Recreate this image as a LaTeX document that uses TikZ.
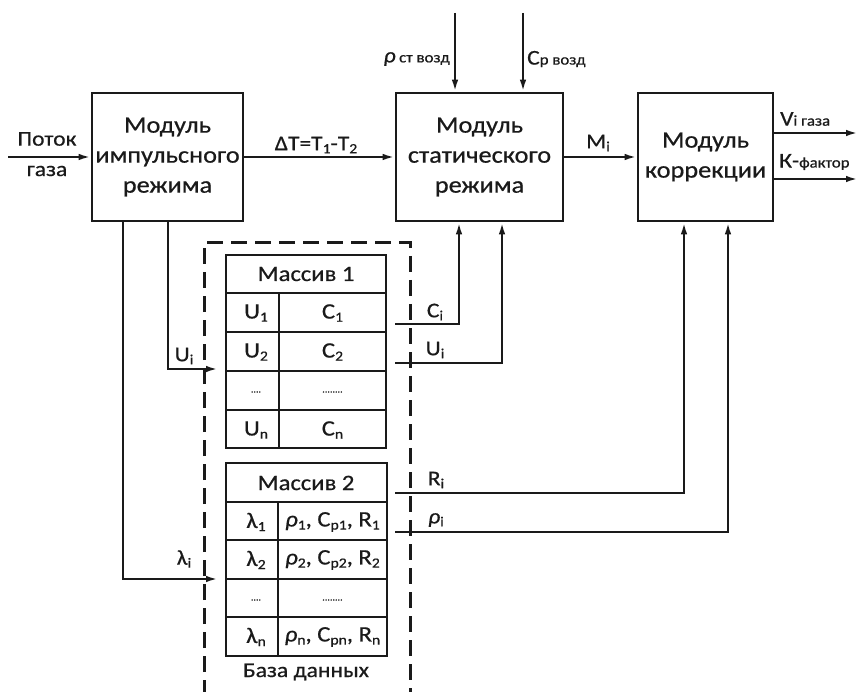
\documentclass[tikz,border=0pt]{standalone}
\usepackage{fontspec}
\setmainfont{Carlito}[FakeStretch=1.12,FakeBold=0.6]
\usetikzlibrary{arrows.meta}
\definecolor{inkc}{HTML}{1A1A1A}
\newcommand\sbx[1]{\raisebox{-0.3ex}{\fontsize{14}{14}\selectfont #1}}
\newcommand\smx[1]{{\fontsize{15}{15}\selectfont #1}}
\begin{document}
\begin{tikzpicture}[x=1pt,y=-1pt,
  every node/.style={text=inkc, inner sep=0pt, font=\fontsize{21}{24}\selectfont},
  modbox/.style={draw=inkc, line width=2.6pt, minimum height=128pt, align=center,
     font=\fontsize{23.5}{30}\selectfont},
  ln/.style={draw=inkc, line width=2.3pt},
  arr/.style={-{Latex[length=12pt,width=6.5pt]}},
  tbl/.style={draw=inkc, line width=2.4pt},
  dbox/.style={draw=inkc, line width=3pt, dash pattern=on 16pt off 8pt},
  lbl/.style={font=\fontsize{21}{24}\selectfont},
  cell/.style={font=\fontsize{22}{24}\selectfont},
  dotc/.style={font=\fontsize{9}{9}\selectfont}
]
\useasboundingbox (0,0) rectangle (861,692);
\fill[white] (0,0) rectangle (861,692);

% modules
\node[modbox, minimum width=151pt] (b1) at (167.5,157) {Модуль\\импульсного\\режима};
\node[modbox, minimum width=167pt] (b2) at (479.5,157) {Модуль\\статического\\режима};
\node[modbox, minimum width=135pt] (b3) at (705.5,157) {Модуль\\коррекции};

% input
\coordinate (inP) at (8,157);
\draw[ln,arr] (inP) -- (b1.west);
\node[lbl] (lp) at (47,139) {Поток};
\node[lbl] (lg) at (47,171) {газа};

\draw[ln,arr] (b1.east) -- (b2.west);
\node[lbl] (ldt) at (316,145) {Δ{}T=T\sbx{1}-T\sbx{2}};
\draw[ln,arr] (b2.east) -- (b3.west);
\node[lbl] (lmi) at (598,143) {M\sbx{i}};

% top inputs
\coordinate (rt) at (455,13);
\coordinate (ct) at (523,13);
\draw[ln,arr] (rt) -- (rt |- b2.north);
\draw[ln,arr] (ct) -- (ct |- b2.north);
\node[lbl, anchor=east] (lrho) at (450,59) {\textit{ρ}\,\smx{ст возд}};
\node[lbl, anchor=west] (lcp) at (527,59) {C\smx{p возд}};

% outputs
\coordinate (vo) at (858,133);
\coordinate (ko) at (858,179);
\draw[ln,arr] (vo -| b3.east) -- (vo);
\draw[ln,arr] (ko -| b3.east) -- (ko);
\node[lbl, anchor=west] (lv) at (780,119) {V\smx{i газа}};
\node[lbl, anchor=west] (lk) at (779,162) {К-\smx{фактор}};

% database dashed box
\draw[dbox] (204,720) -- (204,243) -- (410,243) -- (410,720);
\node[lbl] (ldb) at (306,672) {База данных};

% table 1
\draw[tbl] (226,255) rectangle (386,448);
\foreach \yy in {293,332,371,410} \draw[tbl] (226,\yy) -- (386,\yy);
\draw[tbl] (279,293) -- (279,448);
\node[cell] (t1h) at (306,274) {Массив 1};
\node[cell] (t1a) at (256,313) {U\sbx{1}};
\node[cell] (t1b) at (332.5,313) {C\sbx{1}};
\node[cell] (t1c) at (256,352) {U\sbx{2}};
\node[cell] (t1d) at (332.5,352) {C\sbx{2}};
\node[dotc] (t1e) at (256,392) {....};
\node[dotc] (t1f) at (332.5,392) {........};
\node[cell] (t1g) at (256,430) {U\sbx{n}};
\node[cell] (t1k) at (332.5,430) {C\sbx{n}};

% table 2
\draw[tbl] (226,463) rectangle (387,656);
\foreach \yy in {502,540,579,617} \draw[tbl] (226,\yy) -- (387,\yy);
\draw[tbl] (278,502) -- (278,656);
\node[cell] (t2h) at (306,483) {Массив 2};
\node[cell] (t2a) at (256,522) {λ\sbx{1}};
\node[cell] (t2b) at (332.5,522) {\textit{ρ}\sbx{1}, C\sbx{p1}, R\sbx{1}};
\node[cell] (t2c) at (256,560) {λ\sbx{2}};
\node[cell] (t2d) at (332.5,560) {\textit{ρ}\sbx{2}, C\sbx{p2}, R\sbx{2}};
\node[dotc] (t2e) at (256,600) {....};
\node[dotc] (t2f) at (332.5,600) {........};
\node[cell] (t2g) at (256,637) {λ\sbx{n}};
\node[cell] (t2k) at (332.5,637) {\textit{ρ}\sbx{n}, C\sbx{pn}, R\sbx{n}};

% inputs to database
\coordinate (uiS) at (168,369);
\coordinate (uiE) at (218,369);
\draw[ln,arr] (uiS |- b1.south) -- (uiS) -- (uiE);
\node[lbl] (lui) at (184,356) {U\sbx{i}};
\coordinate (lS) at (123,579);
\coordinate (lE) at (218,579);
\draw[ln,arr] (lS |- b1.south) -- (lS) -- (lE);
\node[lbl] (lla) at (184,559) {λ\sbx{i}};

% outputs from database
\coordinate (ciS) at (395,324);
\coordinate (ciC) at (459,324);
\draw[ln,arr] (ciS) -- (ciC) -- (ciC |- b2.south);
\node[lbl] (lci) at (435,312) {C\sbx{i}};
\coordinate (u2S) at (395,363);
\coordinate (u2C) at (502,363);
\draw[ln,arr] (u2S) -- (u2C) -- (u2C |- b2.south);
\node[lbl] (lu2) at (435,350) {U\sbx{i}};
\coordinate (riS) at (395,493);
\coordinate (riC) at (684,493);
\draw[ln,arr] (riS) -- (riC) -- (riC |- b3.south);
\node[lbl] (lri) at (436,480) {R\sbx{i}};
\coordinate (rhS) at (395,532);
\coordinate (rhC) at (728,532);
\draw[ln,arr] (rhS) -- (rhC) -- (rhC |- b3.south);
\node[lbl] (lrh) at (436,520) {\textit{ρ}\sbx{i}};
\end{tikzpicture}
\end{document}
